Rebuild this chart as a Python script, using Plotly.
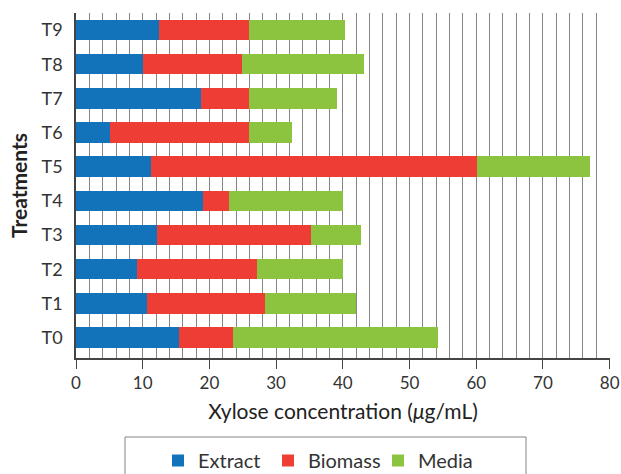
import plotly.graph_objects as go

treatments = ["T0", "T1", "T2", "T3", "T4", "T5", "T6", "T7", "T8", "T9"]
extract = [15.5, 10.7, 9.2, 12.1, 19.1, 11.2, 5.1, 18.7, 10.1, 12.4]
biomass = [8.1, 17.6, 18.0, 23.2, 3.8, 48.9, 20.8, 7.3, 14.8, 13.5]
media = [30.6, 13.7, 12.8, 7.4, 17.1, 17.0, 6.5, 13.1, 18.2, 14.4]
x_ticks = [0, 10, 20, 30, 40, 50, 60, 70, 80]

FONT = "Lato"
series = [("Extract", extract, "#1272BA"), ("Biomass", biomass, "#EE3D35"), ("Media", media, "#8CC43F")]

fig = go.Figure()
for name, vals, col in series:
    fig.add_trace(go.Bar(
        y=treatments, x=vals, name=name, orientation="h",
        marker=dict(color=col, line=dict(width=0)), width=0.6,
    ))

W, H = 621, 474
L, R, T, B = 76, 11, 13, 116
PL, PR, PT, PB = L, W - R, T, H - B  # plot area in page pixels

def px_x(p):
    return (p - PL) / (PR - PL)

def px_y(p):
    return (PB - p) / (PB - PT)

fig.update_layout(
    width=W, height=H,
    margin=dict(l=L, r=R, t=T, b=B, pad=0, autoexpand=False),
    barmode="stack",
    plot_bgcolor="white", paper_bgcolor="white",
    font=dict(family=FONT, size=17, color="#333333"),
    xaxis=dict(
        range=[0, 80.05], tickvals=x_ticks, ticks="outside", ticklen=9, tickcolor="#444444",
        showgrid=True, gridcolor="#858585", gridwidth=1,
        minor=dict(dtick=2, showgrid=True, gridcolor="#858585", gridwidth=1, ticks=""),
        showline=True, linecolor="#444444", linewidth=1.5,
        zeroline=False, automargin=False, ticklabeloverflow="allow",
        tickfont=dict(size=17, color="#333333"),
        title=dict(text="Xylose concentration (<i>μ</i>g/mL)", font=dict(size=21, color="#222222"), standoff=12),
    ),
    yaxis=dict(
        categoryorder="array", categoryarray=treatments, range=[-0.6, 9.5],
        showgrid=False, showline=True, linecolor="#444444", linewidth=1.5,
        ticks="", ticklabelstandoff=8, zeroline=False, automargin=False,
        tickfont=dict(size=18, color="#333333"),
        title=dict(text="<b>Treatments</b>", font=dict(size=21, color="#222222"), standoff=8),
    ),
    legend=dict(
        orientation="h", x=px_x(158), xanchor="left", y=px_y(441), yanchor="top",
        entrywidth=65, entrywidthmode="pixels",
        font=dict(size=20, color="#333333"), bgcolor="rgba(0,0,0,0)",
        traceorder="normal",
    ),
    shapes=[dict(
        type="rect", xref="paper", yref="paper",
        x0=px_x(125), x1=px_x(526), y0=px_y(437), y1=px_y(490),
        line=dict(color="#858585", width=1), fillcolor="rgba(0,0,0,0)", layer="below",
    )],
    bargap=0.4,
)

# remove the default 8px page margin so the 621x474 figure fills the window exactly
fig.write_html(
    "out.html",
    config={"displayModeBar": False},
    post_script="document.body.style.margin='0';document.body.style.overflow='hidden';",
)
